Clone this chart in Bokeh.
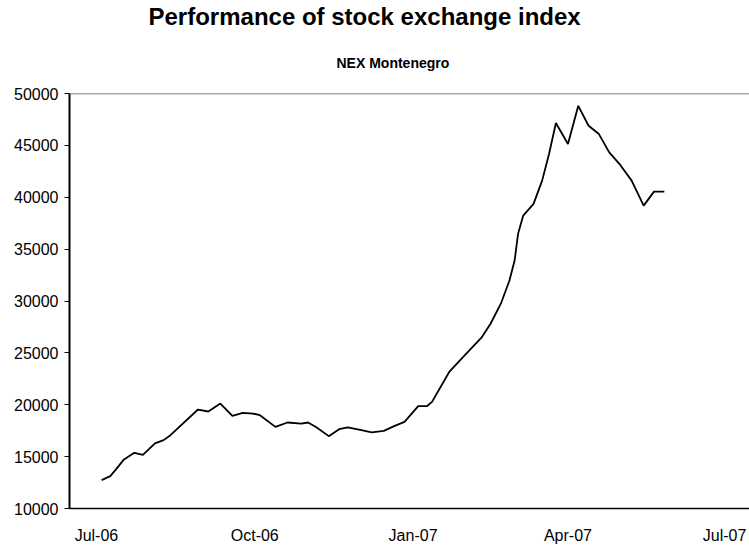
import pandas as pd
from bokeh.plotting import figure
from bokeh.models import (FixedTicker, DatetimeTickFormatter, BasicTickFormatter,
                          Span, Range1d, Title)
from bokeh.embed import file_html
from bokeh.resources import INLINE

# ---- data ----
title_text = "Performance of stock exchange index"
subtitle_text = "NEX Montenegro"

dates = ["2006-07-04", "2006-07-09", "2006-07-12", "2006-07-17", "2006-07-23",
         "2006-07-28", "2006-08-04", "2006-08-09", "2006-08-13", "2006-08-29",
         "2006-09-04", "2006-09-11", "2006-09-18", "2006-09-24", "2006-09-30",
         "2006-10-04", "2006-10-13", "2006-10-20", "2006-10-28", "2006-11-01",
         "2006-11-06", "2006-11-13", "2006-11-19", "2006-11-24", "2006-12-02",
         "2006-12-08", "2006-12-15", "2006-12-21", "2006-12-27", "2007-01-04",
         "2007-01-09", "2007-01-12", "2007-01-22", "2007-01-30", "2007-02-10",
         "2007-02-15", "2007-02-21", "2007-02-26", "2007-03-01", "2007-03-03",
         "2007-03-06", "2007-03-12", "2007-03-17", "2007-03-21", "2007-03-25",
         "2007-04-01", "2007-04-07", "2007-04-13", "2007-04-19", "2007-04-25",
         "2007-05-01", "2007-05-08", "2007-05-15", "2007-05-21", "2007-05-27"]

index_values = [12741, 13126, 13700, 14733, 15370,
                15176, 16270, 16590, 17070, 19540,
                19350, 20120, 18930, 19215, 19150,
                18990, 17870, 18290, 18190, 18290,
                17810, 16975, 17650, 17810, 17550,
                17330, 17480, 17935, 18350, 19860,
                19860, 20275, 23160, 24600, 26525,
                27810, 29740, 31980, 33900, 36470,
                38230, 39360, 41600, 44170, 47150,
                45130, 48810, 46890, 46090, 44320,
                43200, 41600, 39190, 40540, 40540]

x_tick_dates = ["2006-07-01", "2006-10-01", "2007-01-01", "2007-04-01", "2007-07-01"]
y_ticks = [10000, 15000, 20000, 25000, 30000, 35000, 40000, 45000, 50000]
x_start, x_end = "2006-06-15 08:00", "2007-07-15 12:00"

# ---- build ----
xs = pd.to_datetime(dates)
tick_ms = [pd.Timestamp(d).value / 1e6 for d in x_tick_dates]

font = "Liberation Sans"

p = figure(width=749, height=550, output_backend="svg", toolbar_location=None,
           x_axis_type="datetime",
           x_range=Range1d(pd.Timestamp(x_start), pd.Timestamp(x_end)),
           y_range=Range1d(y_ticks[0], y_ticks[-1]),
           min_border_left=69, min_border_right=0, min_border_top=93,
           min_border_bottom=42)

p.line(xs, index_values, line_color="black", line_width=1.8)

p.xgrid.visible = False
p.ygrid.visible = False
p.outline_line_color = None
p.background_fill_color = "white"
p.border_fill_color = "white"

top = Span(location=y_ticks[-1], dimension="width", line_color="#555555",
           line_width=1.5)
p.add_layout(top)

xa = p.xaxis[0]
xa.ticker = FixedTicker(ticks=tick_ms)
xa.formatter = DatetimeTickFormatter(days="%b-%y", months="%b-%y", years="%b-%y")
xa.major_tick_out = 0
xa.major_tick_in = 0
xa.minor_tick_out = 0
xa.minor_tick_in = 0
xa.axis_line_color = "black"
xa.axis_line_width = 1.5
xa.major_label_standoff = 18
xa.major_label_text_font = font
xa.major_label_text_font_size = "16px"
xa.major_label_text_color = "black"

ya = p.yaxis[0]
ya.ticker = FixedTicker(ticks=y_ticks)
ya.formatter = BasicTickFormatter(use_scientific=False)
ya.major_tick_out = 5
ya.major_tick_in = 0
ya.minor_tick_out = 0
ya.minor_tick_in = 0
ya.axis_line_color = "black"
ya.axis_line_width = 2
ya.major_tick_line_color = "black"
ya.major_label_standoff = 6
ya.major_label_text_font = font
ya.major_label_text_font_size = "16px"
ya.major_label_text_color = "black"

# subtitle first (closest to the frame), then the main title
p.add_layout(Title(text=subtitle_text, align="left", offset=267,
                   text_font=font, text_font_style="bold",
                   text_font_size="14px", text_color="black",
                   standoff=46), "above")
p.add_layout(Title(text=title_text, align="left", offset=79,
                   text_font=font, text_font_style="bold",
                   text_font_size="24px", text_color="black",
                   standoff=0), "above")

open("out.html", "w").write(file_html(p, INLINE))
